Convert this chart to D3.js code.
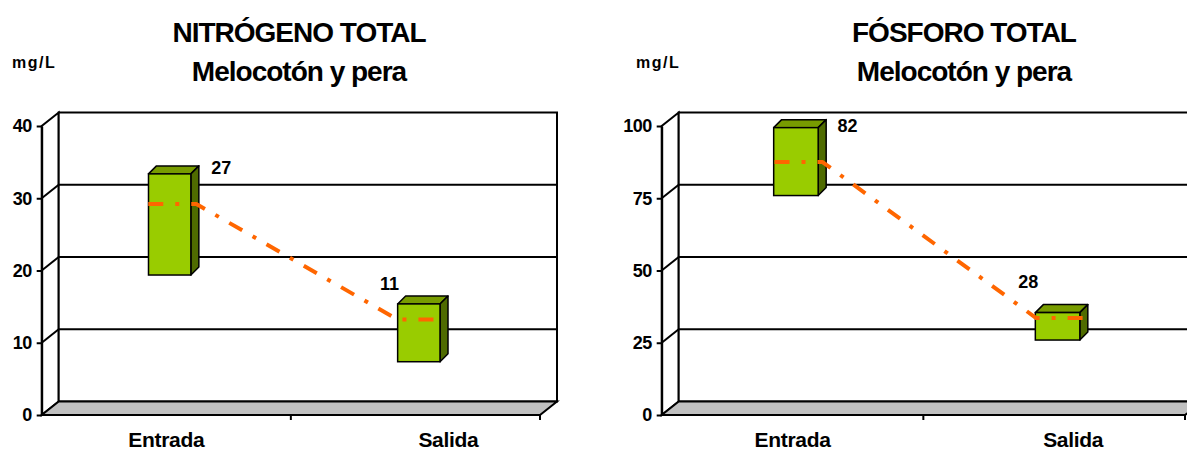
<!DOCTYPE html>
<html>
<head>
<meta charset="utf-8">
<script src="https://cdn.jsdelivr.net/npm/d3@7"></script>
<style>
  html, body { margin: 0; padding: 0; background: #ffffff; }
  svg { display: block; }
  text { font-family: "Liberation Sans", Arial, sans-serif; font-weight: bold; fill: #000; }
</style>
</head>
<body>
<svg id="chart" width="1187" height="452"></svg>
<script>
// ---- data ----
const categories = ["Entrada", "Salida"];

// Nitrógeno total (mg/L): floating range bars and the value line
const nitroLow = [19, 7];
const nitroHigh = [33, 15];
const nitroValues = [27, 11];
const nitroTicks = [0, 10, 20, 30, 40];

// Fósforo total (mg/L)
const fosfLow = [75, 25];
const fosfHigh = [98.5, 34.5];
const fosfValues = [82, 28];
const fosfTicks = [0, 25, 50, 75, 100];

const titleLine2 = "Melocotón y pera";
const unitLabel = "mg/L";

// ---- drawing ----
const svg = d3.select("#chart");

// oblique 3-D depth of the plot box
const DEPTH_X = 17, DEPTH_Y = -13.5;
const BAR_Z = 0.2;              // depth of the bar front face (0 = front, 1 = back wall)
const BAR_DEPTH = 8;            // visible bar thickness
const BAR_FRAC = 0.17;          // bar width as share of a category band

function drawChart(opt) {
  const g = svg.append("g");
  const x = d3.scaleBand().domain(categories).range([opt.x0, opt.x1]).paddingInner(0).paddingOuter(0);
  const y = d3.scaleLinear().domain([0, d3.max(opt.ticks)]).range([415, 126]);
  const yMax = d3.max(opt.ticks);

  const xb0 = opt.x0 + DEPTH_X, xb1 = opt.x1 + DEPTH_X;

  // left side wall
  g.append("path")
    .attr("d", d3.line()([[opt.x0, y(0)], [opt.x0, y(yMax)], [xb0, y(yMax) + DEPTH_Y], [xb0, y(0) + DEPTH_Y]]) + "Z")
    .attr("fill", "#fff").attr("stroke", "#000").attr("stroke-width", 2);

  // back wall
  g.append("rect")
    .attr("x", xb0).attr("y", y(yMax) + DEPTH_Y)
    .attr("width", xb1 - xb0).attr("height", y(0) - y(yMax))
    .attr("fill", "#fff").attr("stroke", "#000").attr("stroke-width", 2);

  // gridlines on the back wall and their connectors on the side wall
  const inner = opt.ticks.filter(t => t > 0 && t < yMax);
  g.selectAll(".grid").data(inner).join("line")
    .attr("x1", xb0).attr("x2", xb1)
    .attr("y1", d => y(d) + DEPTH_Y).attr("y2", d => y(d) + DEPTH_Y)
    .attr("stroke", "#000").attr("stroke-width", 2);
  g.selectAll(".conn").data(inner).join("line")
    .attr("x1", opt.x0).attr("y1", d => y(d))
    .attr("x2", xb0).attr("y2", d => y(d) + DEPTH_Y)
    .attr("stroke", "#000").attr("stroke-width", 2);

  // floor
  g.append("path")
    .attr("d", d3.line()([[opt.x0, y(0)], [opt.x1, y(0)], [xb1, y(0) + DEPTH_Y], [xb0, y(0) + DEPTH_Y]]) + "Z")
    .attr("fill", "#c0c0c0").attr("stroke", "#000").attr("stroke-width", 2);

  // value axis on the front edge
  const yAxis = d3.axisLeft(y).tickValues(opt.ticks).tickSize(5).tickSizeOuter(0).tickPadding(5);
  const ya = g.append("g").attr("transform", `translate(${opt.x0},0)`).call(yAxis);
  ya.select(".domain").attr("stroke", "#000").attr("stroke-width", 2);
  ya.selectAll(".tick line").attr("stroke", "#000").attr("stroke-width", 2);
  ya.selectAll(".tick text")
    .style("font-family", '"Liberation Sans", Arial, sans-serif')
    .style("font-weight", "bold").style("font-size", "18px").attr("fill", "#000")
    .attr("letter-spacing", "-0.5");

  // category ticks along the front floor edge
  const bounds = categories.map((c, i) => x(c) + x.bandwidth());
  g.selectAll(".xtick").data(bounds).join("line")
    .attr("x1", d => d).attr("x2", d => d)
    .attr("y1", y(0)).attr("y2", y(0) + 5)
    .attr("stroke", "#000").attr("stroke-width", 2);

  // floating bars
  const bw = x.bandwidth() * BAR_FRAC;
  const sx = DEPTH_X * BAR_Z, sy = DEPTH_Y * BAR_Z;
  categories.forEach((c, i) => {
    const cx = x(c) + x.bandwidth() / 2 + sx;
    const xl = cx - bw / 2, xr = cx + bw / 2;
    const yt = y(opt.high[i]) + sy, yb = y(opt.low[i]) + sy;
    g.append("path")
      .attr("d", d3.line()([[xl, yt], [xr, yt], [xr + BAR_DEPTH, yt - BAR_DEPTH], [xl + BAR_DEPTH, yt - BAR_DEPTH]]) + "Z")
      .attr("fill", "#789c00").attr("stroke", "#000").attr("stroke-width", 1.5).attr("stroke-linejoin", "round");
    g.append("path")
      .attr("d", d3.line()([[xr, yt], [xr + BAR_DEPTH, yt - BAR_DEPTH], [xr + BAR_DEPTH, yb - BAR_DEPTH], [xr, yb]]) + "Z")
      .attr("fill", "#4f6b00").attr("stroke", "#000").attr("stroke-width", 1.5).attr("stroke-linejoin", "round");
    g.append("rect")
      .attr("x", xl).attr("y", yt).attr("width", bw).attr("height", yb - yt)
      .attr("fill", "#99cc00").attr("stroke", "#000").attr("stroke-width", 1.5);
  });

  // value line (drawn in the rear part of the box)
  const LINE_DX = 6, LINE_DY = -16, HALF = 24;
  const pts = [];
  categories.forEach((c, i) => {
    const cx = x(c) + x.bandwidth() / 2 + LINE_DX;
    const yy = y(opt.values[i]) + LINE_DY;
    pts.push([cx - HALF, yy], [cx + HALF, yy]);
  });
  g.append("path")
    .attr("d", d3.line()(pts))
    .attr("fill", "none").attr("stroke", "#ff6600").attr("stroke-width", 4)
    .attr("stroke-dasharray", "15,12,4,12").attr("stroke-linejoin", "round");

  // value labels
  const labelDx = [55, -26];
  g.selectAll(".vlab").data(opt.values).join("text")
    .attr("x", (d, i) => x(categories[i]) + x.bandwidth() / 2 + labelDx[i])
    .attr("y", d => y(d) - 46)
    .attr("text-anchor", "middle").style("font-size", "18px")
    .text(d => d);

  // category labels
  g.selectAll(".clab").data(categories).join("text")
    .attr("x", (d, i) => x(d) + x.bandwidth() / 2 + opt.catShift[i])
    .attr("y", 447)
    .attr("text-anchor", "middle").style("font-size", "21px").attr("letter-spacing", "-0.3")
    .text(d => d);

  // titles and unit
  g.append("text").attr("x", opt.titleX).attr("y", 42).attr("text-anchor", "middle")
    .style("font-size", "28px").attr("letter-spacing", "-1").text(opt.title);
  g.append("text").attr("x", opt.titleX).attr("y", 81).attr("text-anchor", "middle")
    .style("font-size", "28px").attr("letter-spacing", "-1").text(titleLine2);
  g.append("text").attr("x", opt.unitX).attr("y", 68)
    .style("font-size", "16px").attr("letter-spacing", "1.5").text(unitLabel);
}

drawChart({
  title: "NITRÓGENO TOTAL", titleX: 299, unitX: 12,
  x0: 41.7, x1: 540, ticks: nitroTicks,
  low: nitroLow, high: nitroHigh, values: nitroValues,
  catShift: [0, 33]
});

drawChart({
  title: "FÓSFORO TOTAL", titleX: 964, unitX: 636,
  x0: 661.7, x1: 1185, ticks: fosfTicks,
  low: fosfLow, high: fosfHigh, values: fosfValues,
  catShift: [0, 19]
});
</script>
</body>
</html>
